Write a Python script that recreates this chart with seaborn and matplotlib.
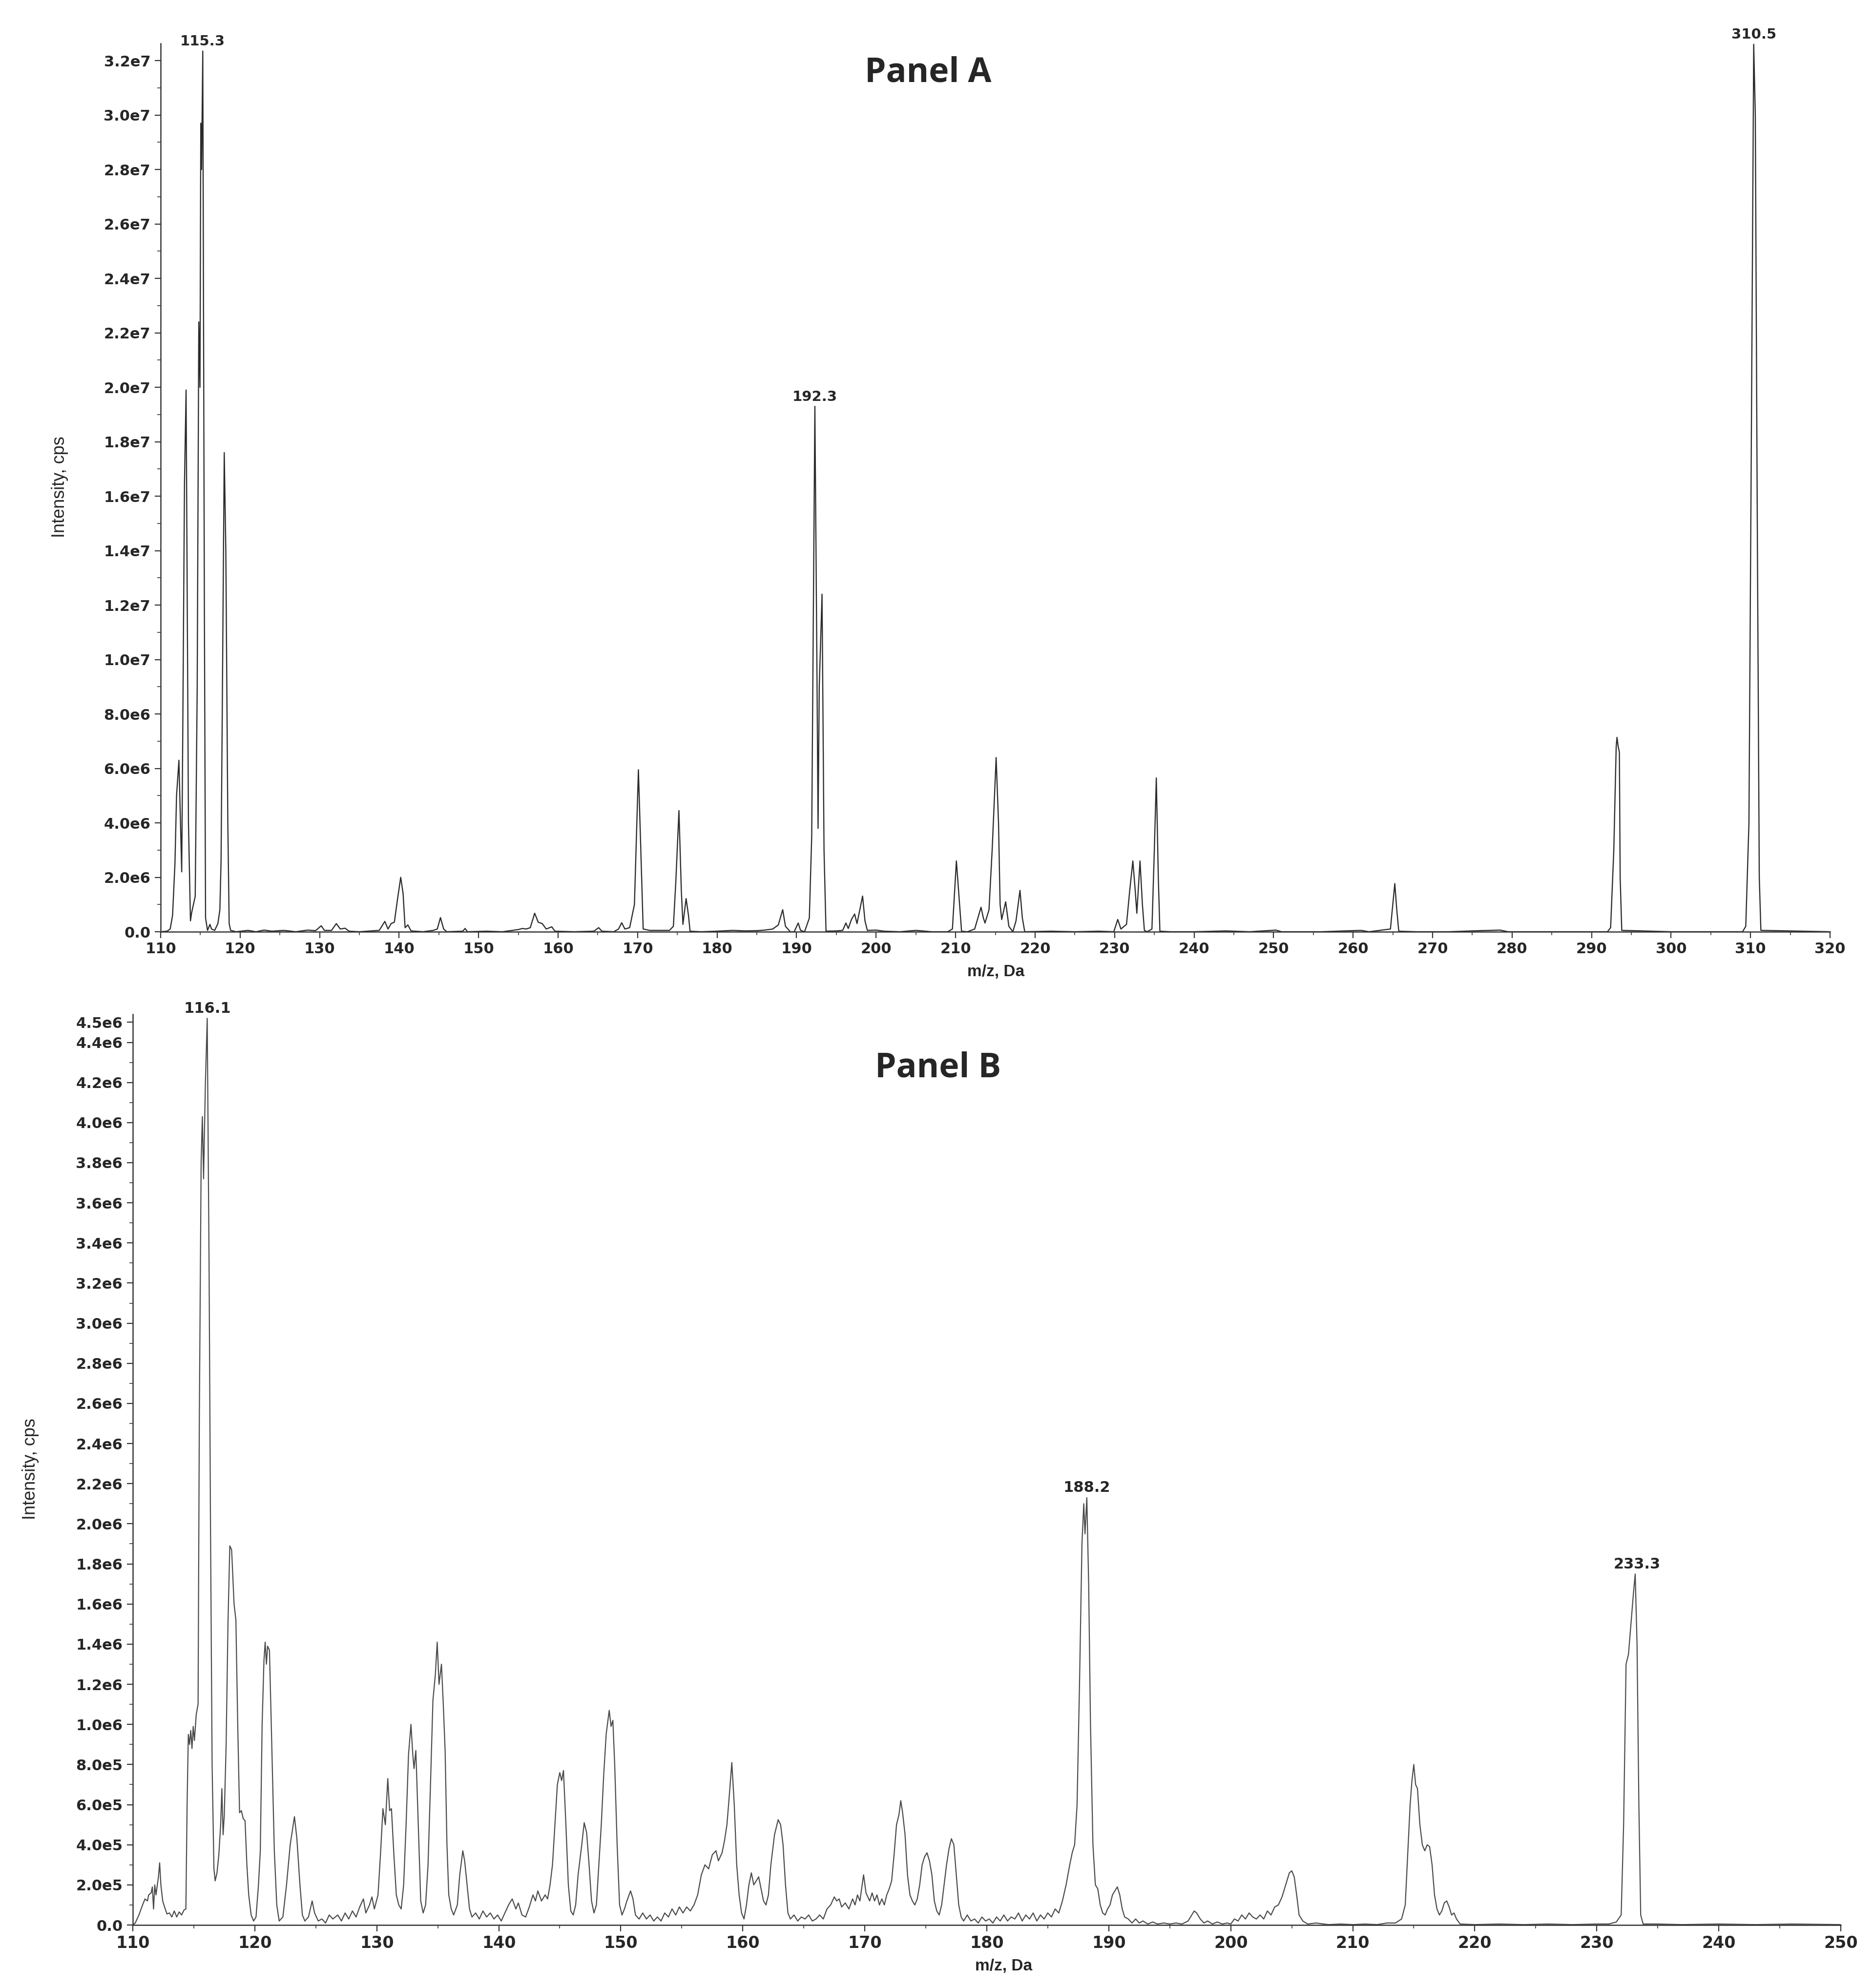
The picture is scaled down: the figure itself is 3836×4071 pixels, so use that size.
import numpy as np
import pandas as pd
import matplotlib
matplotlib.use("Agg")
import matplotlib.pyplot as plt
from matplotlib.ticker import MultipleLocator, FixedLocator, FuncFormatter
import seaborn as sns

# ---- data (m/z in Da, intensity in cps) ----
# Panel A: profile vertices, intensity in units of 1e6 cps
a_mz = [110.0, 110.8, 111.2, 111.5, 111.8, 112.0, 112.3, 112.5, 112.65, 112.8, 113.0, 113.2, 113.35, 113.5,
        113.75, 113.9, 114.2, 114.35, 114.6, 114.8, 114.95, 115.05, 115.15, 115.3, 115.5, 115.65, 115.9,
        116.2, 116.4, 116.8, 117.2, 117.45, 117.6, 117.75, 118.0, 118.2, 118.45, 118.62, 118.8, 119.5,
        121.0, 122.0, 123.0, 124.0, 125.5, 127.0, 128.5, 129.5, 130.2, 130.6, 131.5, 132.1, 132.6, 133.2,
        133.7, 135.0, 136.5, 137.5, 138.2, 138.6, 139.0, 139.4, 139.8, 140.2, 140.5, 140.75, 141.1, 141.5,
        143.0, 144.3, 144.8, 145.2, 145.6, 146.0, 148.0, 148.3, 148.6, 151.0, 153.0, 155.0, 155.5, 156.0,
        156.5, 157.05, 157.5, 158.0, 158.5, 159.2, 159.6, 162.0, 164.5, 165.1, 165.5, 167.0, 167.6, 168.0,
        168.4, 169.0, 169.6, 170.1, 170.4, 170.7, 171.5, 172.5, 174.0, 174.5, 174.8, 175.2, 175.5, 175.7,
        176.1, 176.4, 176.6, 178.0, 180.0, 182.0, 183.5, 185.0, 186.0, 187.0, 187.7, 188.25, 188.6, 189.2,
        189.7, 190.2, 190.5, 191.0, 191.6, 191.9, 192.3, 192.55, 192.7, 192.85, 193.2, 193.45, 193.7,
        195.0, 195.8, 196.2, 196.5, 196.9, 197.3, 197.6, 198.3, 198.6, 198.9, 200.0, 201.0, 203.0, 205.0,
        207.0, 209.0, 209.6, 210.1, 210.5, 210.75, 211.5, 212.4, 212.8, 213.2, 213.5, 213.7, 214.2, 214.6,
        215.1, 215.4, 215.6, 215.8, 216.3, 216.7, 217.2, 217.6, 218.1, 218.4, 218.7, 222.0, 225.0, 228.0,
        229.9, 230.4, 230.8, 231.2, 231.5, 231.9, 232.3, 232.6, 232.8, 233.2, 233.5, 233.75, 234.1, 234.7,
        235.0, 235.25, 235.5, 235.7, 237.0, 240.0, 244.0, 247.0, 250.3, 251.0, 256.0, 261.0, 262.0, 264.7,
        265.0, 265.25, 265.5, 265.75, 268.0, 272.0, 276.0, 278.5, 279.5, 285.0, 292.0, 292.4, 292.8, 293.1,
        293.2, 293.35, 293.5, 293.6, 293.8, 300.0, 309.0, 309.4, 309.8, 310.1, 310.4, 310.6, 310.85, 311.1,
        311.3, 320.0]
a_int = [0.0, 0.02, 0.1, 0.6, 2.5, 5.0, 6.3, 4.0, 2.2, 8.0, 16.5, 19.9, 12.0, 4.0,
         0.4, 0.7, 1.1, 1.3, 9.0, 22.4, 20.0, 29.7, 28.0, 32.35, 12.0, 0.5, 0.05,
         0.27, 0.1, 0.05, 0.3, 0.8, 2.6, 8.0, 17.6, 14.0, 4.0, 0.3, 0.05, 0.0,
         0.05, 0.0, 0.06, 0.02, 0.05, 0.0, 0.06, 0.04, 0.22, 0.05, 0.05, 0.3, 0.1, 0.13,
         0.02, 0.0, 0.03, 0.05, 0.38, 0.1, 0.3, 0.35, 1.2, 2.0, 1.4, 0.15, 0.25, 0.03,
         0.0, 0.05, 0.1, 0.52, 0.1, 0.0, 0.02, 0.12, 0.0, 0.02, 0.0, 0.08, 0.12, 0.1,
         0.15, 0.68, 0.35, 0.3, 0.1, 0.18, 0.02, 0.0, 0.02, 0.15, 0.02, 0.0, 0.1, 0.33,
         0.1, 0.15, 1.0, 5.95, 3.0, 0.1, 0.05, 0.05, 0.05, 0.2, 1.8, 4.45, 1.5, 0.27,
         1.22, 0.6, 0.02, 0.0, 0.02, 0.05, 0.03, 0.04, 0.06, 0.1, 0.25, 0.81, 0.2, 0.0,
         0.0, 0.32, 0.05, 0.0, 0.5, 3.5, 19.3, 10.0, 3.8, 9.0, 12.4, 3.0, 0.02,
         0.03, 0.05, 0.32, 0.12, 0.45, 0.65, 0.3, 1.31, 0.4, 0.05, 0.06, 0.02, 0.0, 0.05,
         0.0, 0.0, 0.1, 2.6, 1.0, 0.02, 0.0, 0.1, 0.5, 0.9, 0.5, 0.32, 0.8, 3.0,
         6.4, 4.0, 1.0, 0.45, 1.1, 0.2, 0.0, 0.4, 1.52, 0.5, 0.0, 0.02, 0.0, 0.02,
         0.0, 0.45, 0.1, 0.2, 0.27, 1.5, 2.6, 1.5, 0.68, 2.6, 1.0, 0.05, 0.0, 0.1,
         3.0, 5.65, 2.0, 0.02, 0.0, 0.0, 0.03, 0.0, 0.06, 0.0, 0.0, 0.05, 0.0, 0.1,
         1.0, 1.77, 0.8, 0.02, 0.0, 0.0, 0.04, 0.06, 0.0, 0.0, 0.0, 0.15, 3.0, 6.8,
         7.14, 6.8, 6.6, 2.0, 0.05, 0.0, 0.0, 0.2, 4.0, 18.0, 32.6, 30.0, 15.0, 2.0,
         0.05, 0.0]
a_labels = ["115.3", "192.3", "310.5"]
a_label_mz = [115.3, 192.3, 310.45]
a_label_int = [32.35, 19.3, 32.6]

# Panel B: profile vertices, intensity in units of 1e5 cps
b_mz = [110.0, 110.2, 110.5, 110.8, 111.0, 111.2, 111.3, 111.5, 111.6, 111.7, 111.8, 111.9, 112.1, 112.2,
        112.3, 112.45, 112.6, 112.8, 113.0, 113.2, 113.4, 113.6, 113.8, 114.0, 114.2, 114.35, 114.45,
        114.55, 114.65, 114.75, 114.85, 114.95, 115.05, 115.2, 115.35, 115.45, 115.6, 115.7, 115.8,
        115.95, 116.1, 116.25, 116.37, 116.5, 116.57, 116.65, 116.75, 116.9, 117.05, 117.2, 117.3, 117.4,
        117.5, 117.65, 117.8, 117.95, 118.1, 118.3, 118.45, 118.6, 118.75, 118.9, 119.05, 119.2, 119.35,
        119.5, 119.7, 119.9, 120.1, 120.3, 120.45, 120.6, 120.75, 120.85, 120.95, 121.05, 121.2, 121.35,
        121.6, 121.8, 122.0, 122.3, 122.6, 122.9, 123.1, 123.25, 123.45, 123.7, 123.9, 124.1, 124.4,
        124.7, 124.9, 125.2, 125.5, 125.8, 126.1, 126.4, 126.8, 127.1, 127.4, 127.7, 128.0, 128.3, 128.6,
        128.9, 129.1, 129.4, 129.6, 129.8, 130.1, 130.3, 130.5, 130.7, 130.9, 131.05, 131.2, 131.4, 131.6,
        131.8, 132.0, 132.2, 132.4, 132.6, 132.8, 132.95, 133.05, 133.2, 133.4, 133.6, 133.8, 134.0,
        134.2, 134.4, 134.6, 134.8, 134.95, 135.1, 135.3, 135.45, 135.6, 135.75, 135.9, 136.1, 136.3,
        136.6, 136.8, 137.05, 137.2, 137.4, 137.6, 137.8, 138.1, 138.4, 138.7, 139.0, 139.3, 139.6,
        139.9, 140.2, 140.5, 140.8, 141.1, 141.4, 141.6, 141.9, 142.2, 142.5, 142.8, 143.0, 143.2, 143.5,
        143.8, 144.0, 144.2, 144.4, 144.6, 144.8, 145.0, 145.15, 145.3, 145.5, 145.7, 145.9, 146.1,
        146.3, 146.5, 146.8, 147.0, 147.2, 147.4, 147.6, 147.8, 148.0, 148.2, 148.4, 148.6, 148.8,
        149.05, 149.2, 149.35, 149.5, 149.7, 149.9, 150.1, 150.3, 150.5, 150.8, 151.0, 151.2, 151.5,
        151.8, 152.1, 152.4, 152.7, 153.0, 153.3, 153.6, 153.9, 154.2, 154.5, 154.8, 155.1, 155.4,
        155.7, 156.0, 156.3, 156.6, 156.9, 157.2, 157.5, 157.8, 158.0, 158.3, 158.5, 158.7, 158.9,
        159.1, 159.3, 159.5, 159.7, 159.9, 160.1, 160.3, 160.5, 160.7, 160.9, 161.1, 161.3, 161.5,
        161.7, 161.9, 162.1, 162.3, 162.6, 162.9, 163.1, 163.3, 163.5, 163.7, 163.9, 164.2, 164.5,
        164.8, 165.1, 165.4, 165.7, 166.0, 166.3, 166.6, 166.9, 167.2, 167.5, 167.7, 167.9, 168.1,
        168.4, 168.7, 169.0, 169.2, 169.4, 169.6, 169.9, 170.1, 170.4, 170.6, 170.8, 171.0, 171.2,
        171.4, 171.6, 171.8, 172.0, 172.2, 172.4, 172.6, 172.8, 172.95, 173.1, 173.3, 173.5, 173.7,
        173.9, 174.1, 174.3, 174.5, 174.7, 174.9, 175.1, 175.3, 175.5, 175.7, 175.9, 176.1, 176.3,
        176.5, 176.7, 176.9, 177.1, 177.3, 177.5, 177.7, 177.9, 178.1, 178.4, 178.7, 179.0, 179.3,
        179.6, 179.9, 180.2, 180.5, 180.8, 181.1, 181.4, 181.7, 182.0, 182.3, 182.6, 182.9, 183.2,
        183.5, 183.8, 184.1, 184.4, 184.7, 185.0, 185.3, 185.6, 185.9, 186.2, 186.5, 186.8, 187.0,
        187.2, 187.4, 187.6, 187.8, 187.95, 188.05, 188.2, 188.35, 188.5, 188.7, 188.9, 189.1, 189.3,
        189.5, 189.7, 189.9, 190.1, 190.3, 190.5, 190.7, 190.9, 191.1, 191.3, 191.6, 191.9, 192.2,
        192.5, 192.8, 193.2, 193.6, 194.0, 194.5, 195.0, 195.5, 196.0, 196.5, 196.8, 197.0, 197.2,
        197.5, 197.8, 198.1, 198.5, 198.9, 199.3, 199.7, 200.0, 200.3, 200.6, 200.9, 201.2, 201.5,
        201.8, 202.1, 202.4, 202.7, 203.0, 203.3, 203.6, 203.9, 204.2, 204.5, 204.8, 205.0, 205.2,
        205.4, 205.6, 205.9, 206.3, 207.0, 208.0, 209.0, 210.0, 211.0, 212.0, 212.8, 213.5, 214.0,
        214.3, 214.5, 214.7, 214.85, 215.0, 215.15, 215.3, 215.5, 215.7, 215.9, 216.1, 216.3, 216.5,
        216.7, 216.9, 217.1, 217.3, 217.5, 217.7, 217.9, 218.1, 218.3, 218.5, 218.8, 220.0, 222.0,
        224.0, 226.0, 228.0, 230.0, 231.0, 231.6, 232.0, 232.2, 232.4, 232.6, 232.8, 233.0, 233.15,
        233.3, 233.45, 233.6, 233.8, 235.0, 237.0, 240.0, 243.0, 246.0, 250.0]
b_int = [0.0, 0.1, 0.5, 1.0, 1.3, 1.2, 1.5, 1.6, 1.9, 0.8, 2.0, 1.5, 2.4, 3.1,
         2.0, 1.2, 0.9, 0.55, 0.6, 0.4, 0.7, 0.4, 0.65, 0.5, 0.75, 0.8, 6.0,
         9.5, 9.0, 9.7, 8.8, 9.9, 9.2, 10.5, 11.0, 25.0, 38.0, 40.3, 37.2,
         42.0, 45.2, 33.0, 19.8, 8.0, 5.6, 2.8, 2.2, 2.6, 3.5, 5.0, 6.8, 4.5,
         5.5, 9.0, 15.0, 18.9, 18.7, 16.0, 15.2, 10.0, 5.6, 5.7, 5.3, 5.2, 3.0,
         1.5, 0.5, 0.2, 0.4, 2.0, 3.7, 10.0, 13.2, 14.1, 13.0, 13.9, 13.7, 10.0,
         3.7, 1.0, 0.2, 0.4, 2.0, 4.0, 4.8, 5.4, 4.3, 2.0, 0.5, 0.2, 0.4,
         1.2, 0.6, 0.2, 0.3, 0.1, 0.5, 0.3, 0.5, 0.2, 0.6, 0.3, 0.7, 0.4, 0.9,
         1.3, 0.6, 1.0, 1.4, 0.8, 1.5, 3.5, 5.8, 5.0, 7.3, 5.7, 5.8, 3.5, 1.5,
         1.0, 0.8, 2.0, 5.0, 8.5, 10.0, 8.5, 7.8, 8.7, 5.0, 1.2, 0.6, 1.0,
         3.0, 7.0, 11.2, 12.5, 14.1, 12.0, 13.0, 11.0, 8.7, 4.0, 1.5, 0.8, 0.5,
         1.0, 2.5, 3.7, 3.2, 2.0, 0.8, 0.4, 0.6, 0.3, 0.7, 0.4, 0.6, 0.3,
         0.5, 0.2, 0.6, 1.0, 1.3, 0.8, 1.1, 0.5, 0.4, 0.9, 1.5, 1.2, 1.7, 1.2,
         1.5, 1.3, 2.0, 3.0, 5.0, 7.0, 7.6, 7.2, 7.7, 5.0, 2.0, 0.7, 0.5,
         1.0, 2.5, 4.0, 5.1, 4.6, 3.0, 1.2, 0.6, 1.0, 3.0, 5.0, 7.5, 9.5,
         10.7, 9.9, 10.2, 8.0, 4.0, 1.0, 0.5, 0.8, 1.2, 1.7, 1.3, 0.5, 0.3,
         0.6, 0.3, 0.5, 0.2, 0.4, 0.2, 0.6, 0.4, 0.8, 0.5, 0.9, 0.6, 0.9,
         0.7, 1.0, 1.5, 2.5, 3.0, 2.8, 3.5, 3.7, 3.2, 3.6, 4.2, 5.0, 6.5,
         8.1, 6.0, 3.0, 1.5, 0.6, 0.3, 1.0, 2.0, 2.6, 2.0, 2.2, 2.4, 1.8,
         1.2, 1.0, 1.5, 3.0, 4.5, 5.25, 5.0, 4.0, 2.0, 0.6, 0.3, 0.5, 0.2,
         0.4, 0.3, 0.5, 0.2, 0.3, 0.5, 0.3, 0.8, 1.0, 1.4, 1.2, 1.3, 0.9,
         1.1, 0.8, 1.3, 1.0, 1.5, 1.2, 2.5, 1.6, 1.2, 1.6, 1.2, 1.5, 1.0,
         1.3, 1.0, 1.5, 1.8, 2.2, 3.5, 5.0, 5.5, 6.2, 5.6, 4.5, 2.5, 1.5,
         1.2, 1.0, 1.3, 2.0, 3.0, 3.4, 3.6, 3.2, 2.5, 1.2, 0.7, 0.5, 1.0,
         2.0, 3.0, 3.8, 4.3, 4.0, 2.5, 1.0, 0.4, 0.2, 0.5, 0.2, 0.3, 0.1,
         0.4, 0.2, 0.3, 0.1, 0.4, 0.2, 0.5, 0.2, 0.4, 0.3, 0.6, 0.2, 0.5,
         0.3, 0.6, 0.2, 0.5, 0.3, 0.6, 0.4, 0.8, 0.6, 1.2, 2.0, 3.0, 3.6,
         4.0, 6.0, 12.0, 19.0, 21.0, 19.5, 21.3, 17.0, 10.0, 4.0, 2.0, 1.8, 1.0,
         0.6, 0.5, 0.8, 1.0, 1.5, 1.7, 1.9, 1.5, 0.8, 0.4, 0.3, 0.1, 0.3,
         0.1, 0.2, 0.05, 0.15, 0.05, 0.1, 0.05, 0.1, 0.05, 0.2, 0.5, 0.7, 0.6,
         0.3, 0.1, 0.2, 0.05, 0.15, 0.05, 0.1, 0.05, 0.3, 0.2, 0.5, 0.3, 0.6,
         0.4, 0.3, 0.5, 0.3, 0.7, 0.5, 0.9, 1.0, 1.4, 2.0, 2.6, 2.7, 2.4,
         1.5, 0.5, 0.2, 0.05, 0.1, 0.02, 0.05, 0.02, 0.05, 0.02, 0.1, 0.1, 0.3,
         1.0, 3.5, 6.0, 7.2, 8.0, 7.0, 6.8, 5.0, 4.0, 3.7, 4.0, 3.9, 3.0,
         1.5, 0.8, 0.5, 0.7, 1.1, 1.2, 0.9, 0.5, 0.6, 0.3, 0.05, 0.02, 0.05,
         0.02, 0.05, 0.02, 0.05, 0.05, 0.15, 0.5, 5.0, 13.0, 13.5, 15.0, 16.5, 17.5,
         14.0, 6.0, 0.5, 0.05, 0.05, 0.02, 0.05, 0.02, 0.05, 0.02]
b_labels = ["116.1", "188.2", "233.3"]
b_label_mz = [116.1, 188.2, 233.3]
b_label_int = [45.2, 21.3, 17.5]

panel_a = pd.DataFrame({"mz": a_mz, "intensity": np.array(a_int) * 1e6})
panel_b = pd.DataFrame({"mz": b_mz, "intensity": np.array(b_int) * 1e5})

# ---- styling ----
sns.set_style("ticks")
plt.rcParams["font.family"] = ["DejaVu Sans"]

W, H = 3837, 4071
fig = plt.figure(figsize=(W / 100, H / 100), dpi=100)


def sci_label(v, pos):
    if abs(v) < 1e-9:
        return "0.0"
    exp = int(np.floor(np.log10(abs(v)) + 1e-9))
    return f"{v / 10 ** exp:.1f}e{exp}"


def box(x0, x1, ytop, ybot):
    return [x0 / W, 1 - ybot / H, (x1 - x0) / W, (ybot - ytop) / H]


def style_axes(ax, xlim, ylim, ymaj, ymin, xfs, yfs, extra_ticks=()):
    ax.set_xlim(*xlim)
    ax.set_ylim(*ylim)
    ax.xaxis.set_major_locator(MultipleLocator(10))
    ax.xaxis.set_minor_locator(MultipleLocator(5))
    yt = list(np.arange(0, ylim[1] * 0.999, ymaj)) + list(extra_ticks)
    ax.yaxis.set_major_locator(FixedLocator(yt))
    ax.yaxis.set_minor_locator(MultipleLocator(ymin))
    ax.yaxis.set_major_formatter(FuncFormatter(sci_label))
    ax.tick_params(axis="both", which="major", length=9, width=1.6, color="#333333", pad=6)
    ax.tick_params(axis="both", which="minor", length=5, width=1.4, color="#555555")
    for lab in ax.get_xticklabels():
        lab.set_fontsize(xfs)
        lab.set_fontweight("bold")
    for lab in ax.get_yticklabels():
        lab.set_fontsize(yfs)
        lab.set_fontweight("bold")
    for s in ["left", "bottom"]:
        ax.spines[s].set_linewidth(1.8)
        ax.spines[s].set_color("#333333")
    sns.despine(ax=ax)
    ax.set_xlabel("")
    ax.set_ylabel("")


# Panel A
ax_a = fig.add_axes(box(329, 3748, 89, 1908))
sns.lineplot(data=panel_a, x="mz", y="intensity", ax=ax_a, color="#2b2b2b",
             linewidth=1.7, estimator=None, sort=False)
style_axes(ax_a, (110, 320), (0, 3.263e7), 2e6, 1e6, 22, 22)
for lab, mz, it in zip(a_labels, a_label_mz, a_label_int):
    ax_a.annotate(lab, xy=(mz, it * 1e6), xytext=(0, 4), textcoords="offset points",
                  ha="center", va="bottom", fontsize=21, fontweight="bold", annotation_clip=False)

# Panel B
ax_b = fig.add_axes(box(272, 3770, 2077, 3942))
sns.lineplot(data=panel_b, x="mz", y="intensity", ax=ax_b, color="#4a4a4a",
             linewidth=1.6, estimator=None, sort=False)
style_axes(ax_b, (110, 250), (0, 4.54e6), 2e5, 1e5, 24, 22, extra_ticks=(4.5e6,))
for lab, mz, it in zip(b_labels, b_label_mz, b_label_int):
    ax_b.annotate(lab, xy=(mz, it * 1e5), xytext=(0, 4), textcoords="offset points",
                  ha="center", va="bottom", fontsize=22, fontweight="bold", annotation_clip=False)

# panel titles and axis titles
title_kw = dict(ha="center", va="center", fontsize=50, fontweight="bold",
                family=["Open Sans", "DejaVu Sans"])
fig.text(1901 / W, 1 - 150 / H, "Panel A", **title_kw)
fig.text(1921 / W, 1 - 2188 / H, "Panel B", **title_kw)

ylab_kw = dict(ha="center", va="center", rotation=90, fontsize=26,
               family=["Liberation Sans", "DejaVu Sans"])
fig.text(122 / W, 1 - 997 / H, "Intensity, cps", **ylab_kw)
fig.text(62 / W, 1 - 3008 / H, "Intensity, cps", **ylab_kw)

xlab_kw = dict(ha="center", va="center", fontsize=24, fontweight="bold",
               family=["Liberation Sans", "DejaVu Sans"])
fig.text(2040 / W, 1 - 1990 / H, "m/z, Da", **xlab_kw)
fig.text(2056 / W, 1 - 4027 / H, "m/z, Da", **xlab_kw)

fig.savefig("out.png", dpi=100, facecolor="white")
